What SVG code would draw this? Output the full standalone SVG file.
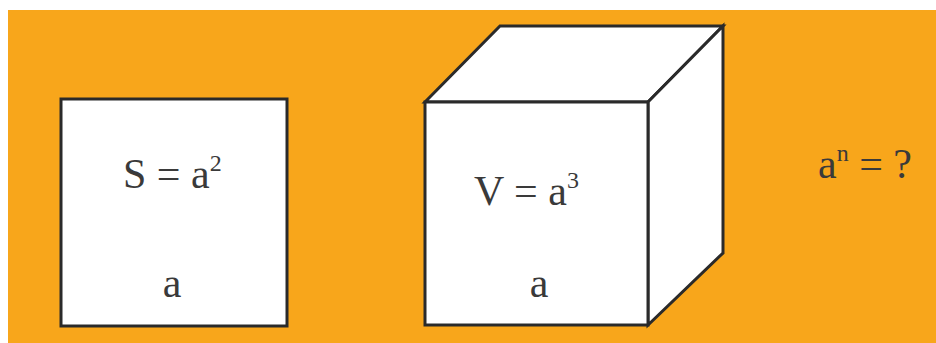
<svg xmlns="http://www.w3.org/2000/svg" width="936" height="343" viewBox="0 0 936 343">
<style>
.face{fill:#ffffff;stroke:#2a2a2a;stroke-width:3;stroke-linejoin:miter}
text{font-family:'Liberation Serif','DejaVu Serif',serif;font-size:42px;fill:#3a3a3a}
.s{font-size:24px}
</style>
<rect x="0" y="0" width="936" height="343" fill="#ffffff"/>
<rect x="8" y="10" width="928" height="333" fill="#F8A61B"/>
<g id="square">
<rect class="face" x="61" y="99" width="226" height="227"/>
<text x="123" y="188" font-family="Liberation Serif, serif">S = a<tspan class="s" dy="-17">2</tspan></text>
<text x="172" y="297" text-anchor="middle" font-family="Liberation Serif, serif">a</text>
</g>
<g id="cube">
<polygon class="face" points="425,102 500,26 723,26 648,102"/>
<polygon class="face" points="648,102 723,26 723,253 648,325"/>
<rect class="face" x="425" y="102" width="223" height="223"/>
<text x="474" y="205" font-family="Liberation Serif, serif">V = a<tspan class="s" dy="-17">3</tspan></text>
<text x="539" y="297" text-anchor="middle" font-family="Liberation Serif, serif">a</text>
</g>
<g id="power">
<text x="818" y="178" font-family="Liberation Serif, serif">a<tspan class="s" dy="-17">n</tspan><tspan dy="17"> = ?</tspan></text>
</g>
</svg>
